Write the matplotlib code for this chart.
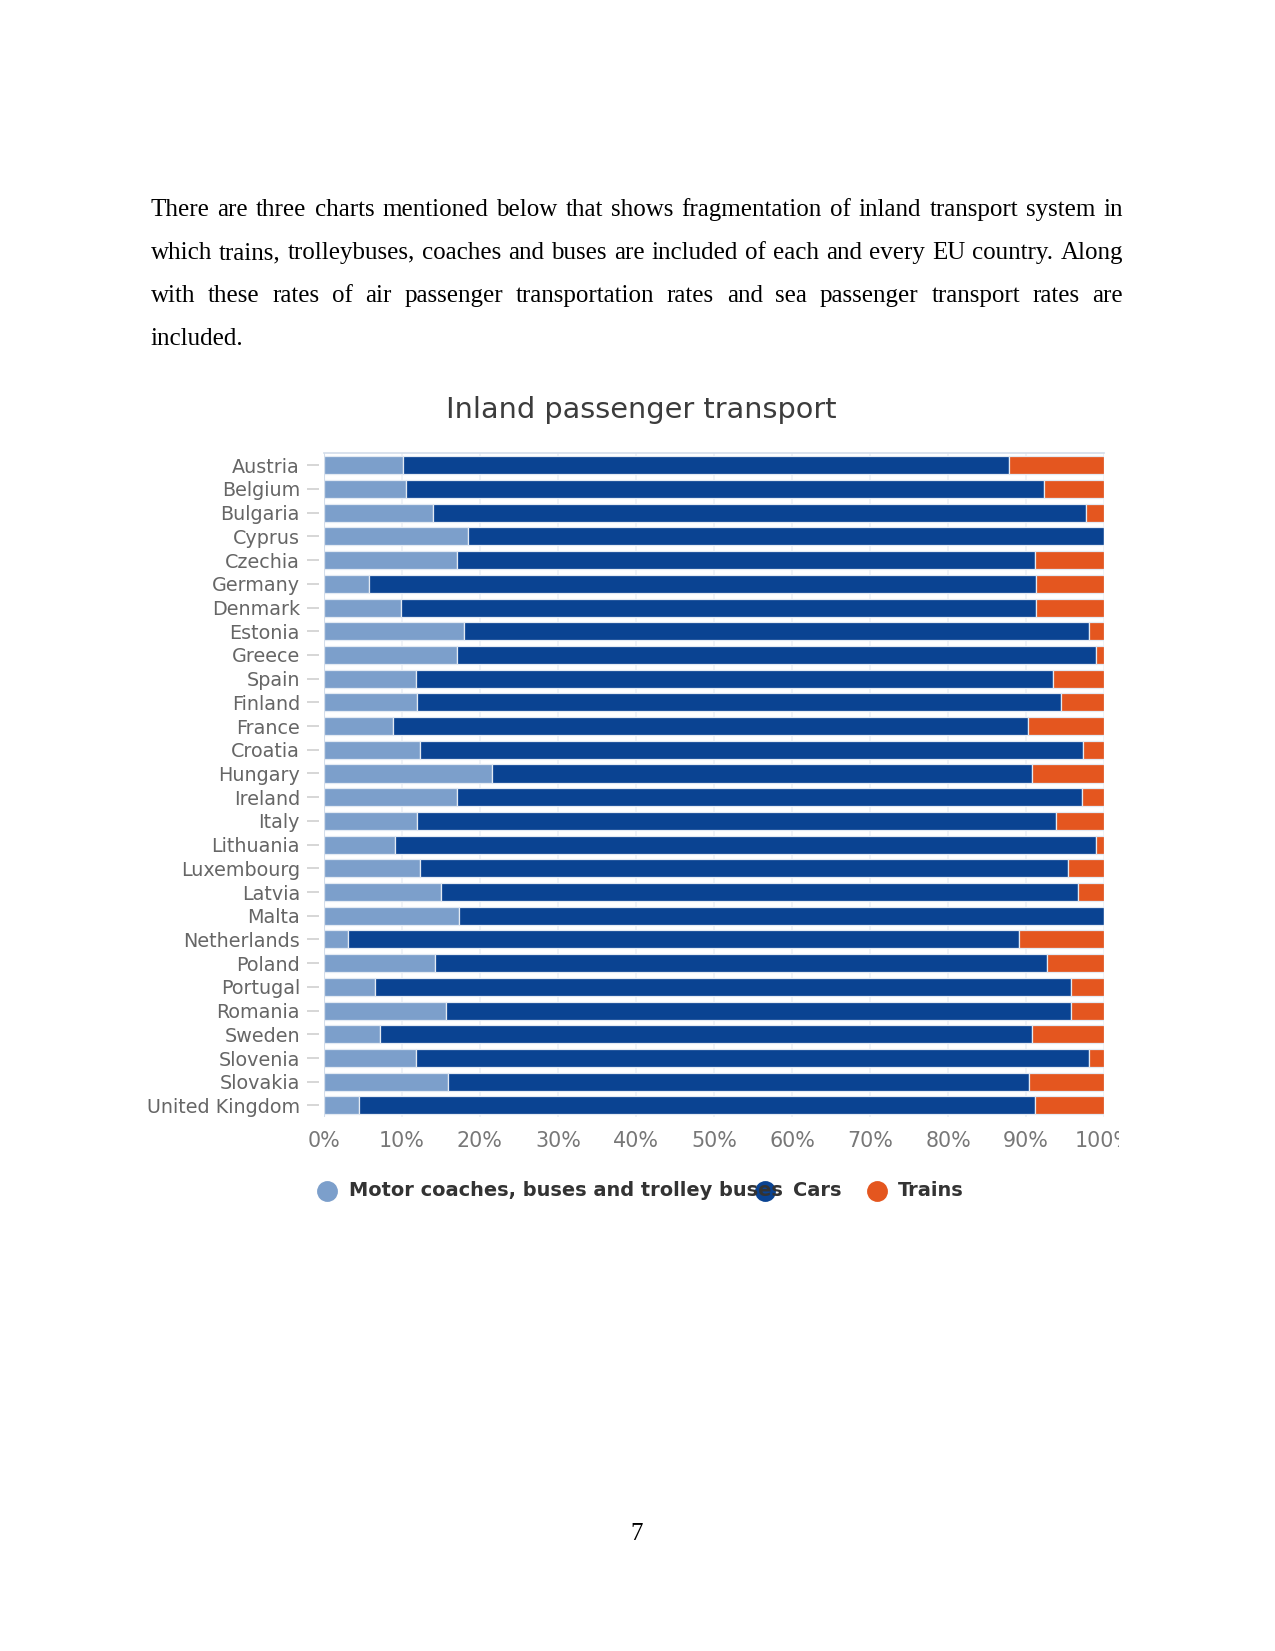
import matplotlib
matplotlib.use("Agg")
import matplotlib.pyplot as plt
from matplotlib.lines import Line2D
from matplotlib.transforms import Bbox
import numpy as np

# data (shares in %)
countries = ["Austria", "Belgium", "Bulgaria", "Cyprus", "Czechia", "Germany", "Denmark",
             "Estonia", "Greece", "Spain", "Finland", "France", "Croatia", "Hungary",
             "Ireland", "Italy", "Lithuania", "Luxembourg", "Latvia", "Malta", "Netherlands",
             "Poland", "Portugal", "Romania", "Sweden", "Slovenia", "Slovakia", "United Kingdom"]
buses = [10.1, 10.5, 14.0, 18.5, 17.1, 5.8, 9.9, 18.0, 17.1, 11.8, 12.0, 8.9, 12.4, 21.6,
         17.1, 12.0, 9.1, 12.4, 15.0, 17.3, 3.1, 14.2, 6.6, 15.7, 7.2, 11.8, 15.9, 4.5]
cars = [77.7, 81.8, 83.7, 81.5, 74.0, 85.5, 81.4, 80.0, 81.8, 81.6, 82.5, 81.4, 84.9, 69.1,
        80.0, 81.8, 89.8, 83.0, 81.6, 82.7, 86.0, 78.5, 89.2, 80.1, 83.5, 86.2, 74.5, 86.6]
trains = [12.2, 7.7, 2.3, 0.0, 8.9, 8.7, 8.7, 2.0, 1.1, 6.6, 5.5, 9.7, 2.7, 9.3,
          2.9, 6.2, 1.1, 4.6, 3.4, 0.0, 10.9, 7.3, 4.2, 4.2, 9.3, 2.0, 9.6, 8.9]
series_names = ["Motor coaches, buses and trolley buses", "Cars", "Trains"]
colors = ["#7c9fcb", "#0a4392", "#e4561f"]
xticks = list(range(0, 101, 10))

paragraph = [
    "There are three charts mentioned below that shows fragmentation of inland transport system in",
    "which trains, trolleybuses, coaches and buses are included of each and every EU country. Along",
    "with these rates of air passenger transportation rates and sea passenger transport rates are",
    "included.",
]

W, H = 1275, 1651


def px(x, y):
    return x / W, 1 - y / H


fig = plt.figure(figsize=(W / 150, H / 150), dpi=150)
renderer = fig.canvas.get_renderer()


def justified_line(line, y, x0, x1, last=False):
    words = line.split()
    ts = [fig.text(0, 0, w, fontsize=12, family="Liberation Serif", va="baseline", color="black")
          for w in words]
    widths = [t.get_window_extent(renderer).width for t in ts]
    if last or len(words) == 1:
        gap = 6.2
    else:
        gap = ((x1 - x0) - sum(widths)) / (len(words) - 1)
    x = x0
    for t, w in zip(ts, widths):
        t.set_position(px(x, y))
        x += w + gap


for i, line in enumerate(paragraph):
    justified_line(line, 216 + i * 43.1, 150.5, 1123, last=(i == len(paragraph) - 1))

# chart
ax = fig.add_axes([323.7 / W, 1 - 1117.3 / H, 780.5 / W, 663.9 / H])
left = np.zeros(len(countries))
for vals, c in zip([buses, cars, trains], colors):
    ax.barh(countries, vals, left=left, height=0.76, color=c, edgecolor="#e3eaf3", linewidth=0.6)
    left += np.array(vals)

ax.set_xlim(0, 100)
ax.set_ylim(len(countries) - 0.5, -0.5)
ax.set_xticks(xticks)
ax.set_xticklabels([f"{v}%" for v in xticks])
ax.xaxis.grid(True, color="#edf1f6", linewidth=0.8)
ax.set_axisbelow(True)

for s in ["right", "bottom"]:
    ax.spines[s].set_visible(False)
ax.spines["top"].set_color("#d3ddea")
ax.spines["left"].set_position(("outward", 2.2))
ax.spines["left"].set_visible(False)
ax.axvline(0, color="#d3ddea", linewidth=1.0)

ax.tick_params(axis="y", length=5.6, width=0.8, color="#d0d0d0", pad=3.6,
               labelsize=9.2, labelcolor="#666666")
ax.tick_params(axis="x", length=0, pad=6.5, labelsize=9.9, labelcolor="#777777")
for lbl in ax.get_xticklabels() + ax.get_yticklabels():
    lbl.set_family("DejaVu Sans")
for lbl in ax.get_xticklabels():
    lbl.set_clip_on(True)
    lbl.set_clip_box(Bbox([[0, 0], [1119, H]]))

fig.text(*px(641.7, 409.5), "Inland passenger transport", ha="center", va="center",
         fontsize=13.8, color="#3c3c3c", family="DejaVu Sans")

# legend
leg_y = 1191
for mx, tx, name, c in zip([327.5, 765.5, 877], [349, 793, 898], series_names, colors):
    fig.add_artist(Line2D([mx / W], [1 - leg_y / H], transform=fig.transFigure, marker="o",
                          markersize=9.0, color=c, linestyle="none"))
    fig.text(*px(tx, leg_y), name, ha="left", va="center", fontsize=9.3, fontweight="bold",
             color="#333333", family="DejaVu Sans")

fig.text(*px(637, 1540), "7", ha="center", va="baseline", fontsize=12,
         family="Liberation Serif", color="black")

fig.savefig("out.png", dpi=150)
